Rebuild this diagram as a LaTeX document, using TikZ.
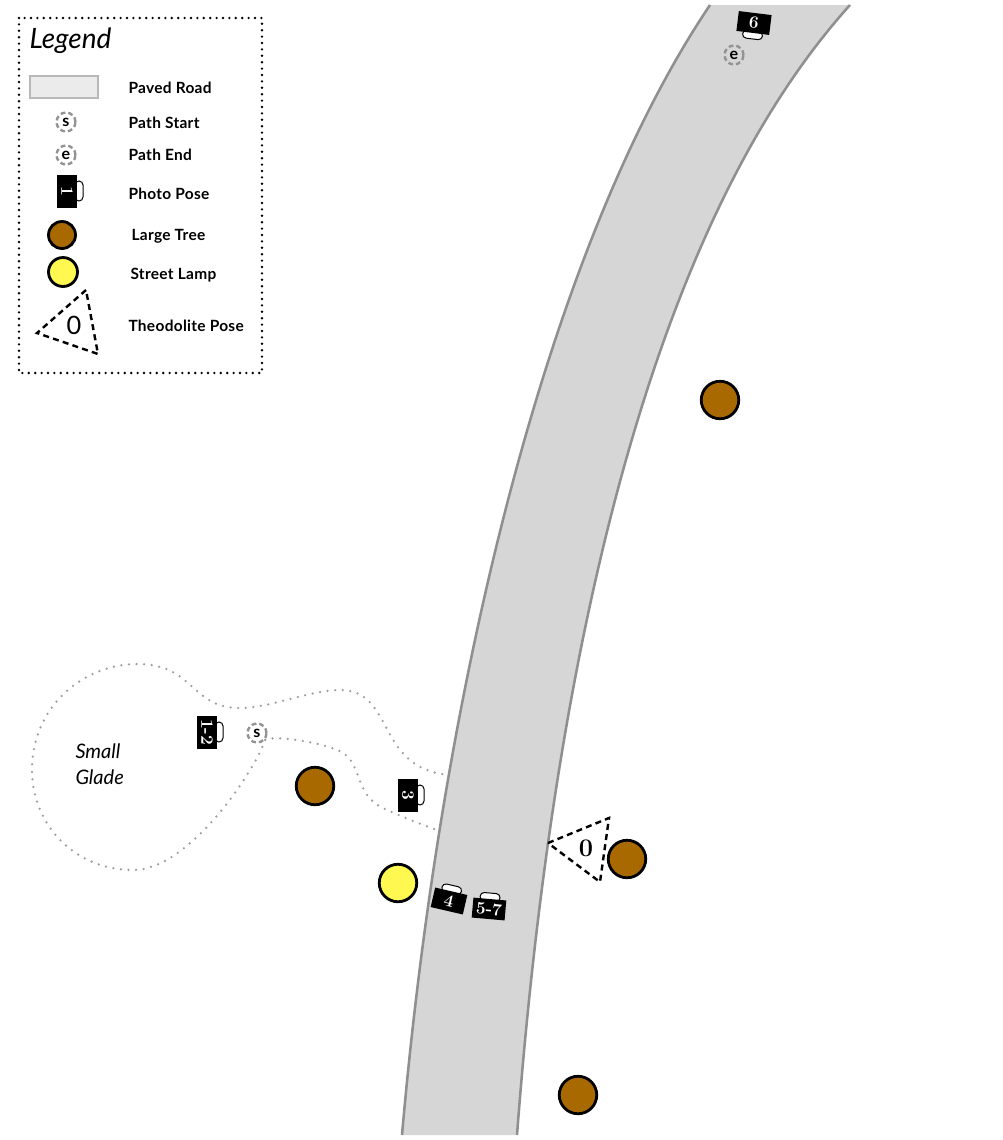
\documentclass[tikz,border=0pt]{standalone}
\usepackage{fontspec}
\setmainfont{Lato}
\newfontfamily\labelfont[LetterSpace=2]{Lato}
\newfontfamily\numfont{Latin Modern Roman}
\tikzset{
every picture/.style={
line width=0.75pt
}}
\definecolor{roadgray}{HTML}{D6D6D6}
\definecolor{roadedge}{HTML}{8F8F8F}
\definecolor{treebrown}{HTML}{A86A00}
\definecolor{lampyellow}{HTML}{FFF850}
\begin{document}
\begin{tikzpicture}[x=0.75pt,y=-0.75pt,
tree/.style = {circle, draw=black, line width=2.1pt, fill=treebrown, minimum size=37.5*0.75pt, inner sep=0pt},
lamp/.style = {circle, draw=black, line width=2.1pt, fill=lampyellow, minimum size=37.5*0.75pt, inner sep=0pt},
smalltree/.style = {tree, minimum size=27*0.75pt},
smalllamp/.style = {lamp, minimum size=29*0.75pt},
endpoint/.style = {circle, draw=gray!85, line width=1.8pt, dash pattern=on 3.6pt off 2.2pt, minimum size=19*0.75pt, inner sep=0pt, font=\bfseries\fontsize{12}{12}\selectfont},
photo/.style = {rectangle, fill=black, text=white, minimum width=33*0.75pt, minimum height=20*0.75pt, inner sep=0pt, font=\numfont\bfseries\fontsize{13}{13}\selectfont},
handle/.style = {draw=black, fill=white, line width=0.75pt, rounded corners=3pt},
theodolite/.style = {draw=black, line width=1.8pt, dash pattern=on 4.5pt off 3.2pt},
trail/.style = {draw=gray!75, line width=1.9pt, line cap=round, dash pattern=on 0pt off 5.7pt},
label/.style = {anchor=west, inner sep=0pt, font=\labelfont\bfseries\fontsize{11.6}{12}\selectfont},
note/.style = {anchor=west, inner sep=0pt, font=\itshape\fontsize{15}{18}\selectfont}]

\useasboundingbox (0,0) rectangle (1003,1140);

% road
\fill[roadgray] (402,1135) .. controls (440,700) and (545,250) .. (710,5)
  -- (850,5) .. controls (638,240) and (550,700) .. (517,1135) -- cycle;
\draw[roadedge, line width=1.9pt] (402,1135) .. controls (440,700) and (545,250) .. (710,5);
\draw[roadedge, line width=1.9pt] (517,1135) .. controls (550,700) and (638,240) .. (850,5);

% legend
\draw[line width=2pt, line cap=round, dash pattern=on 0pt off 4.8pt] (19,18) rectangle (262,373);
\node[anchor=west, inner sep=0pt, font=\itshape\fontsize{21}{24}\selectfont] (legend) at (29,41) {Legend};
\node[draw=black!28, line width=1.8pt, fill=black!8, minimum width=67.5*0.75pt, minimum height=21.5*0.75pt, inner sep=0pt] (lroad) at (64,87) {};
\node[endpoint] (ls) at (66,122) {s};
\node[endpoint] (le) at (66,155) {e};
\node[smalltree] (ltree) at (62,235) {};
\node[smalllamp] (llamp) at (63,272) {};
\draw[theodolite] (86,290) -- (37,333) -- (98,354) -- cycle;
\node[font=\fontsize{19}{20}\selectfont] (lzero) at (74,325) {0};

\node[label] (troad) at (128,88) {Paved Road};
\node[label] (tstart) at (128,123) {Path Start};
\node[label] (tend) at (128,155) {Path End};
\node[label] (tphoto) at (128,194) {Photo Pose};
\node[label] (ttree) at (131,236) {Large Tree};
\node[label] (tlamp) at (130,275) {Street Lamp};
\node[label] (ttheo) at (128,326) {Theodolite Pose};

% photo poses
\foreach \x/\y/\r/\h/\n/\t in {67/191/-90/-1/p0/1, 207/732/-90/-1/p1/1-2, 408/795/-90/-1/p3/3,
  449/901/-13/-1/p4/4, 489/909/-5/-1/p5/5-7, 754/23/-7/1/p6/6}{
  \draw[handle, shift={(\x,\y)}, rotate=\r] (-10,\h*8) rectangle (10,\h*16);
  \node[photo, rotate=\r] (\n) at (\x,\y) {\t};
}

% path
\node[endpoint] (s) at (257,733) {s};
\node[endpoint] (e) at (734,55) {e};
\coordinate (upper) at (449,775);
\coordinate (lower) at (437,830);
\draw[trail] (s.-40) .. controls (255,770) and (190,870) .. (133,870)
  .. controls (75,870) and (32,825) .. (32,770)
  .. controls (32,705) and (85,664) .. (137,664)
  .. controls (195,664) and (190,708) .. (240,708)
  .. controls (270,708) and (310,690) .. (340,690)
  .. controls (395,690) and (375,768) .. (upper);
\draw[trail] (s.-40) .. controls (272,735) and (325,742) .. (343,753)
  .. controls (362,765) and (355,795) .. (383,808)
  .. controls (400,816) and (420,824) .. (lower);

\node[note] (glade1) at (75,751) {Small};
\node[note] (glade2) at (75,777) {Glade};

% trees, lamp and theodolite
\node[tree] (t1) at (720,400) {};
\node[tree] (t2) at (315,786) {};
\node[tree] (t3) at (627,859) {};
\node[tree] (t4) at (578,1095) {};
\node[lamp] (l1) at (398,883) {};
\draw[theodolite] (548,843) -- (609,818) -- (600,882) -- cycle;
\node[font=\numfont\bfseries\fontsize{19}{20}\selectfont] (zero) at (586,848) {0};
\end{tikzpicture}
\end{document}
